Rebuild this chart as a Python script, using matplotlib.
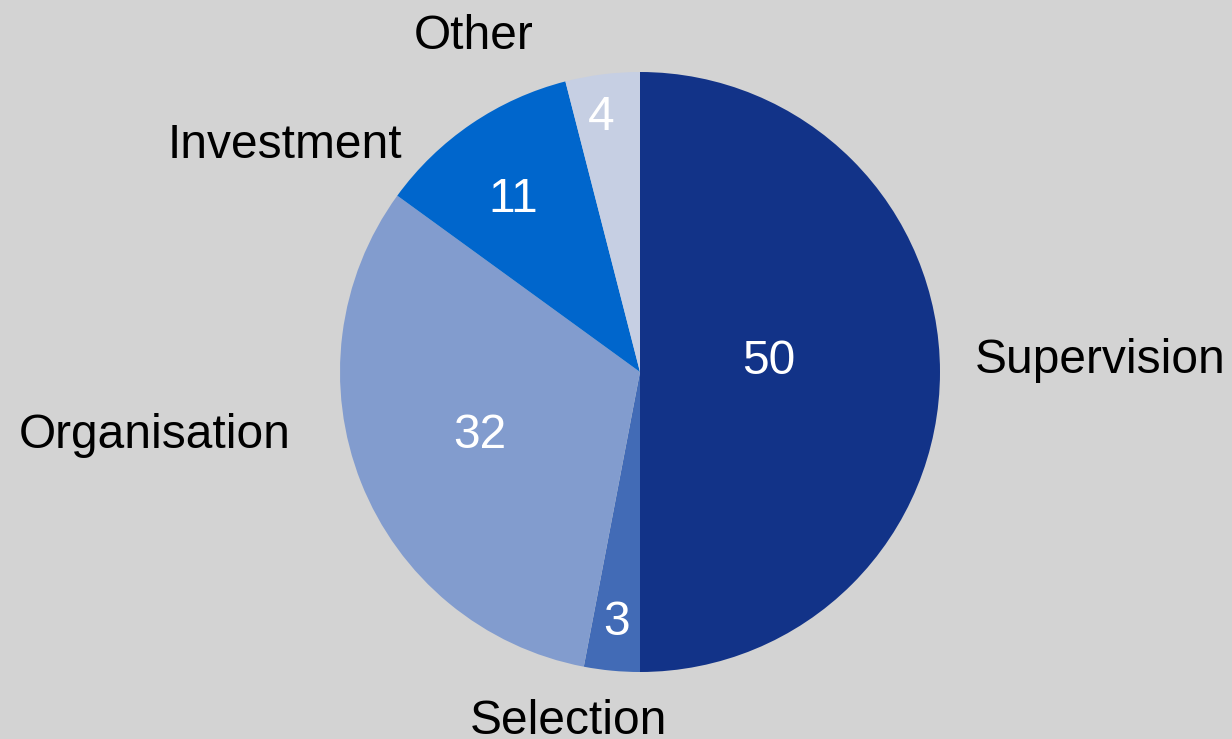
import matplotlib.pyplot as plt

plt.rcParams['font.family'] = ['Liberation Sans', 'DejaVu Sans']

categorias = ['Supervision', 'Selection', 'Organisation', 'Investment', 'Other']
valores = [50, 3, 32, 11, 4]
colores = ['#123388', '#426BB6', '#829CCE', '#0066CC', '#C6CFE3']

# posiciones de los textos (radio del pastel = 1)
pos_etiquetas = [(1.117, 0.037), (-0.24, -1.166), (-1.617, -0.213), (-1.183, 0.754), (-0.553, 1.117)]
alin_etiquetas = ['left', 'center', 'center', 'center', 'center']
pos_valores = [(0.43, 0.034), (-0.077, -0.836), (-0.533, -0.213), (-0.423, 0.574), (-0.13, 0.85)]

fondo = '#D3D3D3'
fig = plt.figure(figsize=(12.32, 7.39), dpi=100, facecolor=fondo)
ax = fig.add_axes([0, 0, 1, 1])
ax.set_facecolor(fondo)

ax.pie(valores, colors=colores, startangle=90, counterclock=False,
       radius=1, center=(0, 0), frame=True,
       wedgeprops=dict(linewidth=0))

for cat, (x, y), ha in zip(categorias, pos_etiquetas, alin_etiquetas):
    ax.text(x, y, cat, ha=ha, va='center', fontsize=34.5, color='black')

for v, (x, y) in zip(valores, pos_valores):
    ax.text(x, y, str(v), ha='center', va='center', fontsize=34.5, color='white')

ax.set_xlim(-640 / 300, (1232 - 640) / 300)
ax.set_ylim(-367 / 300, 372 / 300)
ax.set_aspect('equal')
ax.axis('off')

fig.savefig('out.png', dpi=100, facecolor=fondo)
